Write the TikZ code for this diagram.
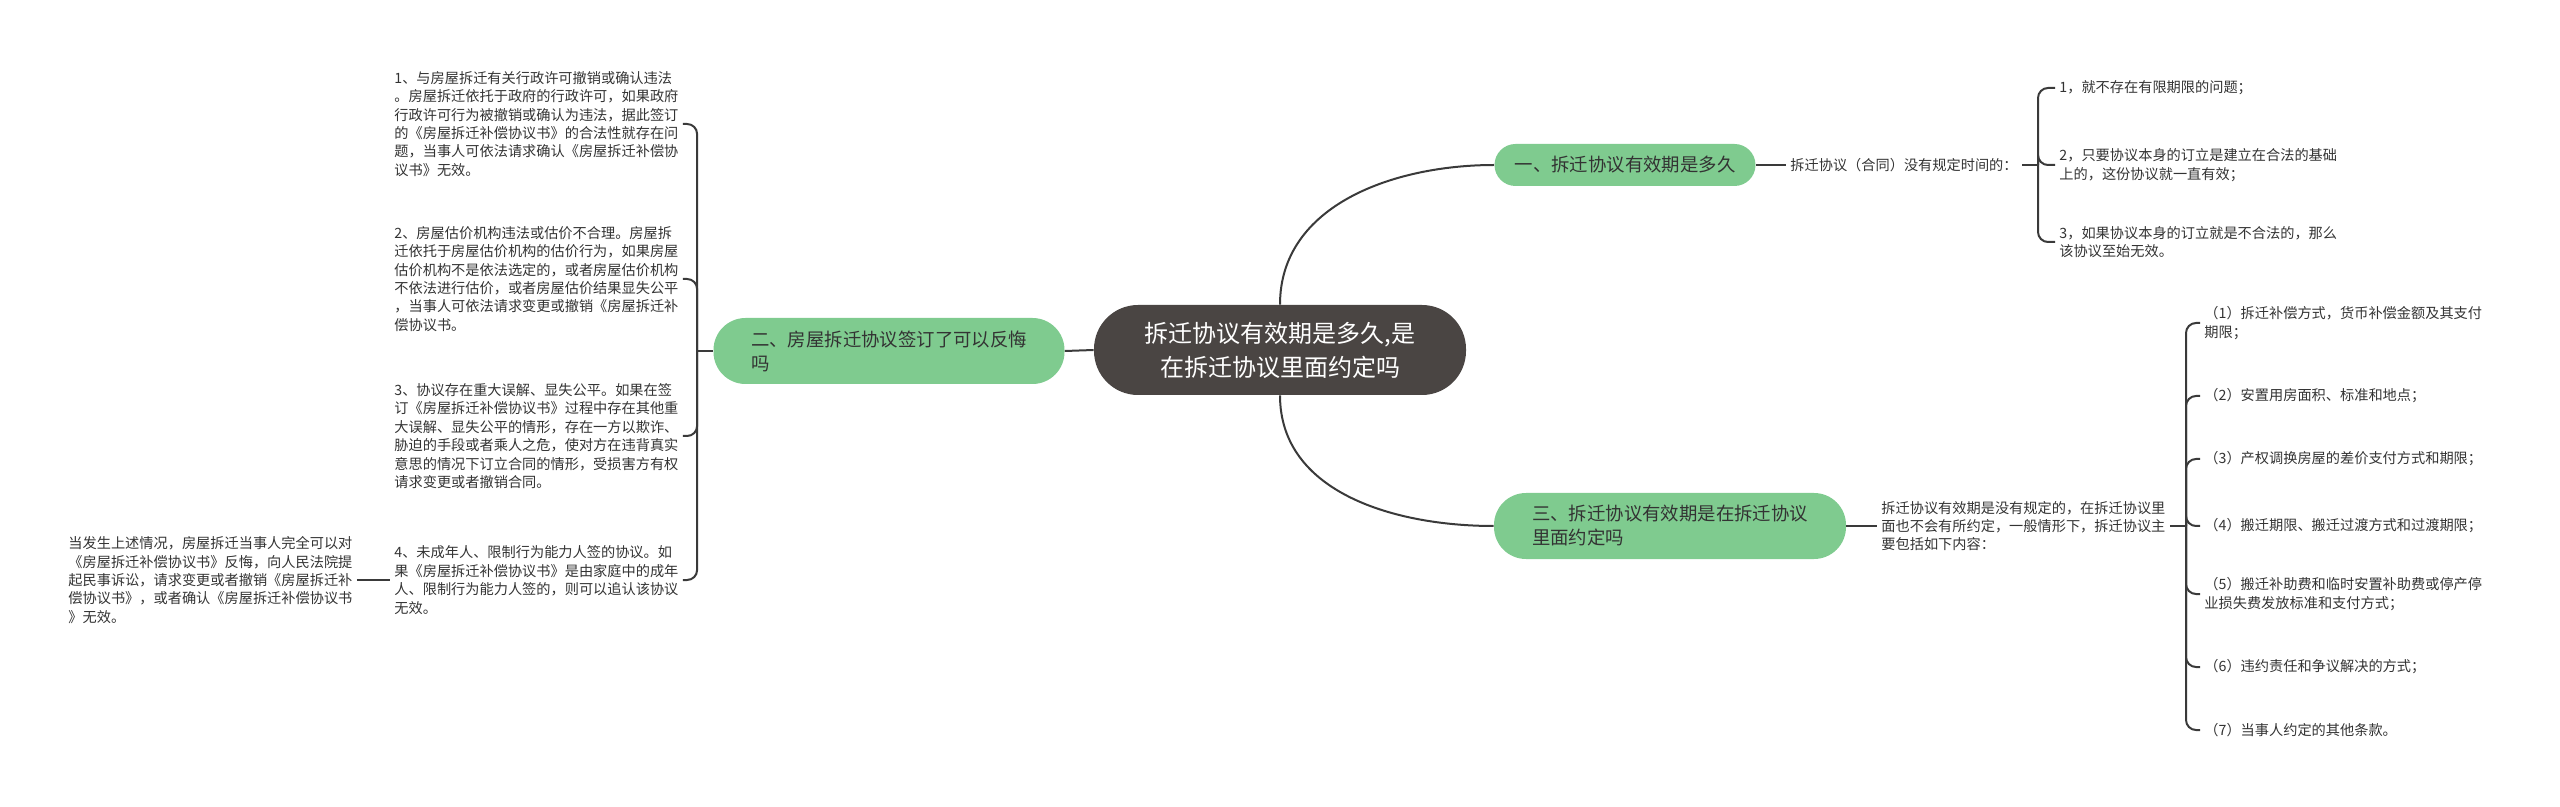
\documentclass[tikz,border=0pt]{standalone}
\usepackage{fontspec}
\setmainfont{Noto Sans CJK SC}
\usepackage{xcolor}
\usetikzlibrary{positioning}
\definecolor{topic}{HTML}{4A4543}
\definecolor{branch}{HTML}{7FCB8F}
\definecolor{ink}{HTML}{333333}
\definecolor{wire}{HTML}{3A3A3A}

\begin{document}
\begin{tikzpicture}[x=0.5pt, y=-0.5pt,
          root/.style={fill=topic, text=white, rounded corners=22pt, minimum width=186pt, minimum height=45pt, align=center, font=\fontsize{12}{17}\selectfont},
          br/.style={fill=branch, text=ink, rounded corners=16pt, minimum height=33pt, align=left, font=\fontsize{9.2}{12}\selectfont},
          leaf/.style={text=ink, align=left, anchor=west, inner xsep=2pt, inner ysep=0pt, font=\fontsize{7.1}{9.2}\selectfont},
          ln/.style={wire, line width=1pt},
          bk/.style={wire, line width=1pt, rounded corners=5pt}
        ]
        \useasboundingbox (0,0) rectangle (2560,807);
        \node[root] (c) at (1280,350) {拆迁协议有效期是多久,是\\在拆迁协议里面约定吗};
        \node[br, minimum width=130.5pt, minimum height=21pt, rounded corners=10.5pt] (n1) at (1625,165) {一、拆迁协议有效期是多久};
        \node[br, minimum width=175.5pt] (n2) at (889,351) {二、房屋拆迁协议签订了可以反悔\\吗};
        \node[br, minimum width=176pt] (n3) at (1670,526) {三、拆迁协议有效期是在拆迁协议\\里面约定吗};
        \draw[ln] (c.north) to[out=90, in=180] (n1.west);
        \draw[ln] (c.south) to[out=-90, in=180] (n3.west);
        \draw[ln] (c.west) -- (n2.east);

        \node[leaf] (l1) at (390,124) {1、与房屋拆迁有关行政许可撤销或确认违法\\。房屋拆迁依托于政府的行政许可，如果政府\\行政许可行为被撤销或确认为违法，据此签订\\的《房屋拆迁补偿协议书》的合法性就存在问\\题，当事人可依法请求确认《房屋拆迁补偿协\\议书》无效。};
        \node[leaf] (l2) at (390,279) {2、房屋估价机构违法或估价不合理。房屋拆\\迁依托于房屋估价机构的估价行为，如果房屋\\估价机构不是依法选定的，或者房屋估价机构\\不依法进行估价，或者房屋估价结果显失公平\\，当事人可依法请求变更或撤销《房屋拆迁补\\偿协议书。};
        \node[leaf] (l3) at (390,436) {3、协议存在重大误解、显失公平。如果在签\\订《房屋拆迁补偿协议书》过程中存在其他重\\大误解、显失公平的情形，存在一方以欺诈、\\胁迫的手段或者乘人之危，使对方在违背真实\\意思的情况下订立合同的情形，受损害方有权\\请求变更或者撤销合同。};
        \node[leaf] (l4) at (390,580) {4、未成年人、限制行为能力人签的协议。如\\果《房屋拆迁补偿协议书》是由家庭中的成年\\人、限制行为能力人签的，则可以追认该协议\\无效。};
        \node[leaf] (l0) at (64,580) {当发生上述情况，房屋拆迁当事人完全可以对\\《房屋拆迁补偿协议书》反悔，向人民法院提\\起民事诉讼，请求变更或者撤销《房屋拆迁补\\偿协议书》，或者确认《房屋拆迁补偿协议书\\》无效。};
        \coordinate (lj) at ([xshift=-8pt]n2.west);
        \draw[ln] (n2.west) -- (lj);
        \foreach \i in {1,...,4}
          \draw[bk] (lj) |- (l\i.east);
        \draw[ln] (l0.east) -- (l4.west);

        \node[leaf] (p1) at (1786,165) {拆迁协议（合同）没有规定时间的：};
        \node[leaf] (r1) at (2055,88) {1，就不存在有限期限的问题；};
        \node[leaf] (r2) at (2055,165) {2，只要协议本身的订立是建立在合法的基础\\上的，这份协议就一直有效；};
        \node[leaf] (r3) at (2055,242) {3，如果协议本身的订立就是不合法的，那么\\该协议至始无效。};
        \coordinate (rj) at (2038,165);
        \draw[ln] (n1.east) -- (p1.west);
        \draw[ln] (p1.east) -- (rj);
        \foreach \i in {1,2,3}
          \draw[bk] (rj) |- (r\i.west);

        \node[leaf] (p3) at (1877,526) {拆迁协议有效期是没有规定的，在拆迁协议里\\面也不会有所约定，一般情形下，拆迁协议主\\要包括如下内容：};
        \node[leaf] (b1) at (2200,323) {（1）拆迁补偿方式，货币补偿金额及其支付\\期限；};
        \node[leaf] (b2) at (2200,396) {（2）安置用房面积、标准和地点；};
        \node[leaf] (b3) at (2200,459) {（3）产权调换房屋的差价支付方式和期限；};
        \node[leaf] (b4) at (2200,526) {（4）搬迁期限、搬迁过渡方式和过渡期限；};
        \node[leaf] (b5) at (2200,594) {（5）搬迁补助费和临时安置补助费或停产停\\业损失费发放标准和支付方式；};
        \node[leaf] (b6) at (2200,667) {（6）违约责任和争议解决的方式；};
        \node[leaf] (b7) at (2200,730) {（7）当事人约定的其他条款。};
        \coordinate (bj) at (2186,526);
        \draw[ln] (n3.east) -- (p3.west);
        \draw[ln] (p3.east) -- (bj);
        \foreach \i in {1,...,7}
          \draw[bk] (bj) |- (b\i.west);
      \end{tikzpicture}
\end{document}
